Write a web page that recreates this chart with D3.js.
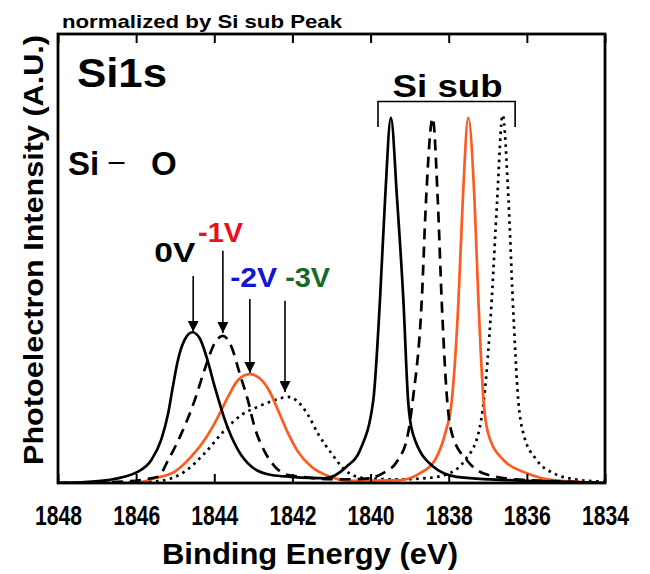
<!DOCTYPE html>
<html><head><meta charset="utf-8">
<script src="https://cdn.jsdelivr.net/npm/d3@7"></script>
<style>
body{margin:0;background:#fff;}
svg text{font-family:"Liberation Sans",Arial,sans-serif;font-weight:bold;}
</style></head>
<body><svg id="c" width="650" height="574"></svg>
<script>
// ---- data (binding energy eV, normalized intensity) ----
const series0V = [[1848.0,0.0],[1847.44,0.002],[1846.72,0.008],[1845.95,0.031],[1845.61,0.063],[1845.36,0.118],[1845.18,0.191],[1845.06,0.264],[1844.93,0.337],[1844.76,0.392],[1844.56,0.413],[1844.37,0.396],[1844.20,0.346],[1843.99,0.264],[1843.73,0.173],[1843.39,0.090],[1843.05,0.045],[1842.54,0.022],[1842.03,0.017],[1841.17,0.013],[1840.61,0.045],[1840.27,0.09],[1839.93,0.227],[1839.76,0.50],[1839.63,0.775],[1839.48,1.0],[1839.32,0.775],[1839.16,0.50],[1839.04,0.227],[1838.92,0.136],[1838.40,0.045],[1837.80,0.017],[1836.5,0.008],[1835.0,0.003],[1834.0,0.0]];
const seriesM1V = [[1848.0,0.0],[1846.5,0.003],[1845.44,0.017],[1845.18,0.063],[1844.84,0.136],[1844.50,0.227],[1844.25,0.310],[1843.99,0.383],[1843.78,0.403],[1843.56,0.373],[1843.35,0.300],[1843.14,0.227],[1842.97,0.154],[1842.71,0.086],[1842.45,0.045],[1842.11,0.022],[1840.78,0.010],[1840.1,0.012],[1839.68,0.027],[1839.30,0.063],[1839.04,0.136],[1838.92,0.227],[1838.69,0.50],[1838.58,0.775],[1838.41,1.0],[1838.28,0.775],[1838.18,0.50],[1838.04,0.227],[1837.92,0.136],[1837.54,0.063],[1837.12,0.027],[1836.3,0.010],[1835.0,0.004],[1834.0,0.0]];
const seriesM2V = [[1848.0,0.0],[1846.04,0.0],[1845.52,0.013],[1845.01,0.031],[1844.59,0.072],[1844.25,0.118],[1843.90,0.182],[1843.65,0.236],[1843.39,0.282],[1843.09,0.298],[1842.84,0.287],[1842.58,0.250],[1842.37,0.200],[1842.11,0.136],[1841.86,0.086],[1841.52,0.045],[1841.09,0.019],[1840.49,0.006],[1839.25,0.008],[1838.73,0.027],[1838.35,0.063],[1838.09,0.136],[1837.92,0.227],[1837.75,0.50],[1837.64,0.775],[1837.50,1.0],[1837.34,0.775],[1837.24,0.50],[1837.11,0.227],[1836.99,0.136],[1836.60,0.063],[1836.00,0.027],[1835.33,0.008],[1834.5,0.002],[1834.0,0.0]];
const seriesM3V = [[1848.0,0.0],[1846.5,0.0],[1845.44,0.005],[1844.76,0.031],[1844.25,0.081],[1843.73,0.145],[1843.31,0.186],[1842.88,0.209],[1842.45,0.227],[1842.11,0.236],[1841.86,0.223],[1841.60,0.186],[1841.35,0.136],[1841.00,0.081],[1840.66,0.036],[1840.15,0.013],[1839.25,0.010],[1838.5,0.014],[1837.97,0.027],[1837.58,0.063],[1837.24,0.136],[1837.10,0.227],[1836.90,0.50],[1836.76,0.775],[1836.62,1.008],[1836.47,0.775],[1836.36,0.50],[1836.22,0.227],[1836.09,0.136],[1835.75,0.063],[1835.32,0.027],[1834.64,0.008],[1834.13,0.004],[1834.0,0.003]];
const xTicks = [1848,1846,1844,1842,1840,1838,1836,1834];
const voltLabels = ["0V","-1V","-2V","-3V"];
const arrowEnergy = [1844.54,1843.78,1843.09,1842.19];
const arrowTip = [0.414,0.411,0.301,0.249];
const arrowTail = [0.567,0.636,0.504,0.499];
const labelEnergy = [1845.01,1843.84,1842.99,1841.61];
const labelLevel = [0.605,0.660,0.538,0.538];
const subBracket = [1839.81,1836.30];
const subBracketLevel = [0.975,1.045];

// ---- layout ----
const svg = d3.select("#c");
const L=58,R=605,T=34,B=483;
const x = d3.scaleLinear().domain([1848,1834]).range([L,R]);
const y = d3.scaleLinear().domain([0,1.23]).range([B,T]);

const styles = [
  {data:series0V, color:"#000", dash:null},
  {data:seriesM1V, color:"#000", dash:"11,7"},
  {data:seriesM2V, color:"#ff5a1f", dash:null},
  {data:seriesM3V, color:"#000", dash:"2.6,4.4"}
];
const voltColors = ["#000","#e8101a","#1414d2","#17692a"];
const voltWidths = [41,45,47,45];

svg.append("clipPath").attr("id","clip").append("rect")
  .attr("x",L).attr("y",T).attr("width",R-L).attr("height",B-T);

const line = d3.line().x(d=>x(d[0])).y(d=>y(d[1])).curve(d3.curveMonotoneX);
const g = svg.append("g").attr("clip-path","url(#clip)");
[3,2,1,0].forEach(i=>{
  const s=styles[i];
  g.append("path").attr("d",line(s.data)).attr("fill","none")
   .attr("stroke",s.color).attr("stroke-width",2.7)
   .attr("stroke-dasharray",s.dash).attr("stroke-linejoin","round");
});

// axes
const xb = d3.axisBottom(x).tickValues(xTicks).tickSize(-9).tickFormat(d3.format("d"));
const gb = svg.append("g").attr("transform",`translate(0,${B})`).call(xb);
gb.select(".domain").remove();
gb.selectAll(".tick line").attr("stroke","#000").attr("stroke-width",2);
gb.selectAll(".tick text").attr("font-size",27).attr("fill","#000").attr("y",42).attr("dy",0)
  .attr("textLength",47).attr("lengthAdjust","spacingAndGlyphs")
  .attr("font-family","Liberation Sans, Arial, sans-serif").attr("font-weight","bold");
const xt = d3.axisTop(x).tickValues(xTicks).tickSize(-9).tickFormat("");
const gt = svg.append("g").attr("transform",`translate(0,${T})`).call(xt);
gt.select(".domain").remove();
gt.selectAll(".tick line").attr("stroke","#000").attr("stroke-width",2);

svg.append("rect").attr("x",L).attr("y",T).attr("width",R-L).attr("height",B-T)
  .attr("fill","none").attr("stroke","#000").attr("stroke-width",2.8);

// arrows
const defs = svg.append("defs");
defs.append("marker").attr("id","ah").attr("viewBox","0 0 10 10").attr("refX",10).attr("refY",5)
  .attr("markerWidth",11).attr("markerHeight",11).attr("markerUnits","userSpaceOnUse").attr("orient","auto")
  .append("path").attr("d","M0,0 L10,5 L0,10 Z").attr("fill","#000");
arrowEnergy.forEach((e,i)=>{
  svg.append("line").attr("x1",x(e)).attr("x2",x(e)).attr("y1",y(arrowTail[i])).attr("y2",y(arrowTip[i]))
   .attr("stroke","#000").attr("stroke-width",1.6).attr("marker-end","url(#ah)");
  svg.append("text").attr("x",x(labelEnergy[i])).attr("y",y(labelLevel[i])).attr("text-anchor","middle")
   .attr("font-size",28).attr("fill",voltColors[i]).attr("textLength",voltWidths[i])
   .attr("lengthAdjust","spacingAndGlyphs").text(voltLabels[i]);
});

// Si sub bracket
svg.append("path").attr("d",`M${x(subBracket[0])},${y(subBracketLevel[0])}V${y(subBracketLevel[1])}H${x(subBracket[1])}V${y(subBracketLevel[0])}`)
  .attr("fill","none").attr("stroke","#000").attr("stroke-width",1.6);
svg.append("text").attr("x",x((subBracket[0]+subBracket[1])/2)+1).attr("y",97).attr("text-anchor","middle")
  .attr("font-size",32).attr("textLength",110).attr("lengthAdjust","spacingAndGlyphs").text("Si sub");

// other texts
svg.append("text").attr("x",62).attr("y",28).attr("font-size",19).attr("textLength",280)
  .attr("lengthAdjust","spacingAndGlyphs").text("normalized by Si sub Peak");
svg.append("text").attr("x",77).attr("y",87).attr("font-size",40).attr("textLength",90)
  .attr("lengthAdjust","spacingAndGlyphs").text("Si1s");
svg.append("text").attr("x",68).attr("y",175).attr("font-size",33).text("Si");
svg.append("text").attr("x",107).attr("y",172).attr("font-size",28)
  .style("font-weight","normal").attr("textLength",19).attr("lengthAdjust","spacingAndGlyphs").text("\u2212");
svg.append("text").attr("x",151).attr("y",175).attr("font-size",33).text("O");
svg.append("text").attr("x",310).attr("y",564).attr("text-anchor","middle").attr("font-size",30)
  .attr("textLength",296).attr("lengthAdjust","spacingAndGlyphs").text("Binding Energy (eV)");
svg.append("text").attr("transform","translate(43,250) rotate(-90)").attr("text-anchor","middle")
  .attr("font-size",28).attr("textLength",430).attr("lengthAdjust","spacingAndGlyphs")
  .text("Photoelectron Intensity (A.U.)");
</script></body></html>
